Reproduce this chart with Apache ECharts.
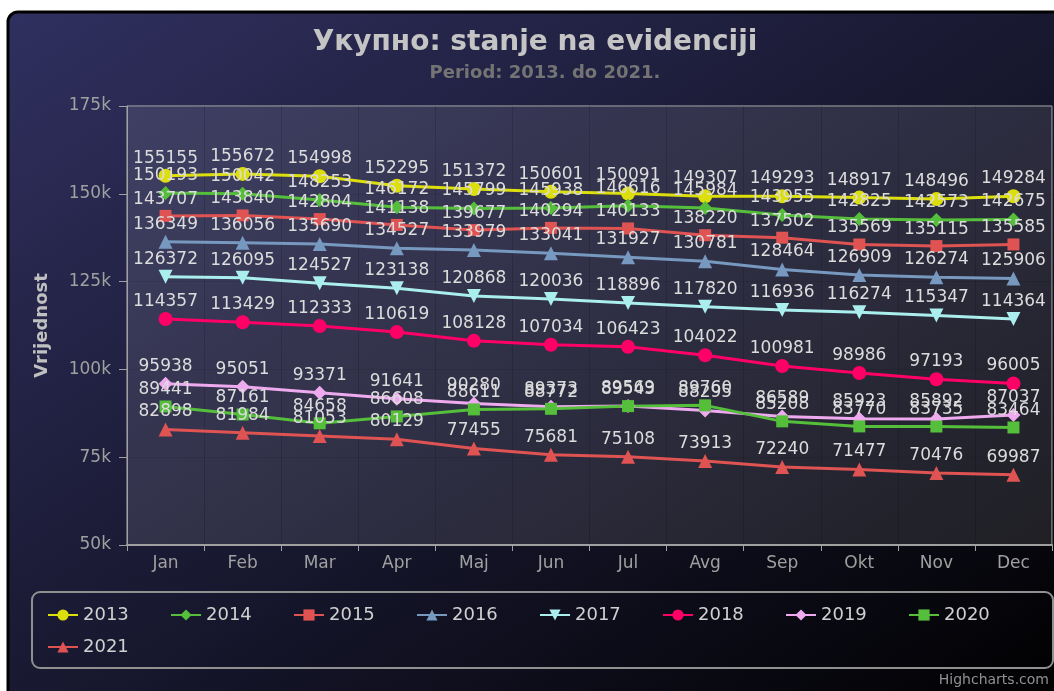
<!DOCTYPE html>
<html>
<head>
<meta charset="utf-8">
<script src="https://cdn.jsdelivr.net/npm/echarts@6/dist/echarts.min.js"></script>
<style>
  html, body { margin: 0; padding: 0; background: #fff; }
  #chart { width: 1054px; height: 691px; }
</style>
</head>
<body>
<div id="chart"></div>
<script>
var months = ['Jan', 'Feb', 'Mar', 'Apr', 'Maj', 'Jun', 'Jul', 'Avg', 'Sep', 'Okt', 'Nov', 'Dec'];
var years = ['2013', '2014', '2015', '2016', '2017', '2018', '2019', '2020', '2021'];

var y2013 = [155155, 155672, 154998, 152295, 151372, 150601, 150091, 149307, 149293, 148917, 148496, 149284];
var y2014 = [150193, 150042, 148253, 146172, 145799, 145938, 146616, 145984, 143955, 142825, 142573, 142675];
var y2015 = [143707, 143840, 142804, 141138, 139677, 140294, 140133, 138220, 137502, 135569, 135115, 135585];
var y2016 = [136349, 136056, 135690, 134527, 133979, 133041, 131927, 130781, 128464, 126909, 126274, 125906];
var y2017 = [126372, 126095, 124527, 123138, 120868, 120036, 118896, 117820, 116936, 116274, 115347, 114364];
var y2018 = [114357, 113429, 112333, 110619, 108128, 107034, 106423, 104022, 100981, 98986, 97193, 96005];
var y2019 = [95938, 95051, 93371, 91641, 90280, 89373, 89569, 88295, 86589, 85923, 85892, 87037];
var y2020 = [89441, 87161, 84658, 86608, 88611, 88772, 89543, 89760, 85208, 83770, 83735, 83464];
var y2021 = [82898, 81984, 81053, 80129, 77455, 75681, 75108, 73913, 72240, 71477, 70476, 69987];

var allData = [y2013, y2014, y2015, y2016, y2017, y2018, y2019, y2020, y2021];
var colors = ['#DDDF0D', '#55BF3B', '#DF5353', '#7798BF', '#aaeeee', '#ff0066', '#eeaaee', '#55BF3B', '#DF5353'];
var symbols = ['circle', 'diamond', 'rect', 'triangle', 'triangle', 'circle', 'diamond', 'rect', 'triangle'];
var rotations = [0, 0, 0, 0, 180, 0, 0, 0, 0];
var sizes = [14, 14, 12, 14, 14, 14, 14, 12, 14];

var series = [];
for (var i = 0; i < years.length; i++) {
    series.push({
        name: years[i],
        type: 'line',
        data: allData[i],
        symbol: symbols[i],
        symbolRotate: rotations[i],
        symbolSize: sizes[i],
        lineStyle: { width: 3 },
        label: {
            show: true,
            position: 'top',
            distance: 2,
            color: '#dcdcdc',
            fontSize: 17
        }
    });
}

var chart = echarts.init(document.getElementById('chart'));
chart.setOption({
    animation: false,
    color: colors,
    textStyle: { fontFamily: 'DejaVu Sans' },
    graphic: [
        {
            type: 'rect',
            z: -10,
            silent: true,
            shape: { x: 8, y: 12, width: 1070, height: 710, r: 10 },
            style: {
                fill: new echarts.graphic.LinearGradient(8, 12, 653, 983, [
                    { offset: 0, color: 'rgb(48,48,96)' },
                    { offset: 1, color: 'rgb(0,0,0)' }
                ], true),
                stroke: '#000',
                lineWidth: 3
            }
        },
        {
            type: 'text',
            right: 5,
            top: 673,
            style: { text: 'Highcharts.com', fill: '#909090', fontSize: 14, fontFamily: 'DejaVu Sans' }
        }
    ],
    title: [
        {
            text: 'Укупно: stanje na evidenciji',
            left: 535,
            top: 29,
            textAlign: 'center',
            padding: 0,
            textStyle: { color: '#c4c4c4', fontSize: 28, fontWeight: 'bold' }
        },
        {
            text: 'Period: 2013. do 2021.',
            left: 545,
            top: 64,
            textAlign: 'center',
            padding: 0,
            textStyle: { color: '#747474', fontSize: 18, fontWeight: 'bold' }
        }
    ],
    legend: {
        left: 32,
        top: 592,
        width: 970,
        padding: [14, 36, 12, 15],
        itemWidth: 30,
        itemHeight: 14,
        itemGap: 14,
        borderColor: '#909090',
        borderWidth: 2,
        borderRadius: 8,
        textStyle: { color: '#d0d0d0', fontSize: 18, width: 73, lineHeight: 18 },
        data: years
    },
    grid: {
        left: 127,
        top: 106,
        right: 2,
        bottom: 146,
        show: true,
        backgroundColor: 'rgba(255,255,255,0.1)',
        borderColor: '#b0b0b0',
        borderWidth: 1
    },
    xAxis: {
        type: 'category',
        data: months,
        boundaryGap: true,
        axisLine: { lineStyle: { color: '#A0A0A0', width: 2 } },
        axisTick: { show: true, length: 6, lineStyle: { color: '#A0A0A0' } },
        axisLabel: { color: '#a0a0a0', fontSize: 17, margin: 10 },
        splitLine: { show: true, lineStyle: { color: 'rgba(0,0,0,0.15)' } }
    },
    yAxis: {
        type: 'value',
        min: 50000,
        max: 175000,
        interval: 25000,
        name: 'Vrijednost',
        nameLocation: 'middle',
        nameGap: 76,
        nameTextStyle: { color: '#c0c0c0', fontSize: 18, fontWeight: 'bold' },
        axisLine: { show: true, lineStyle: { color: '#A0A0A0' } },
        axisTick: { show: true, length: 8, lineStyle: { color: '#A0A0A0' } },
        axisLabel: {
            color: '#a0a0a0',
            fontSize: 17,
            margin: 16,
            formatter: function (v) { return (v / 1000) + 'k'; }
        },
        splitLine: { show: true, lineStyle: { color: 'rgba(0,0,0,0.08)' } }
    },
    series: series
});
</script>
</body>
</html>
